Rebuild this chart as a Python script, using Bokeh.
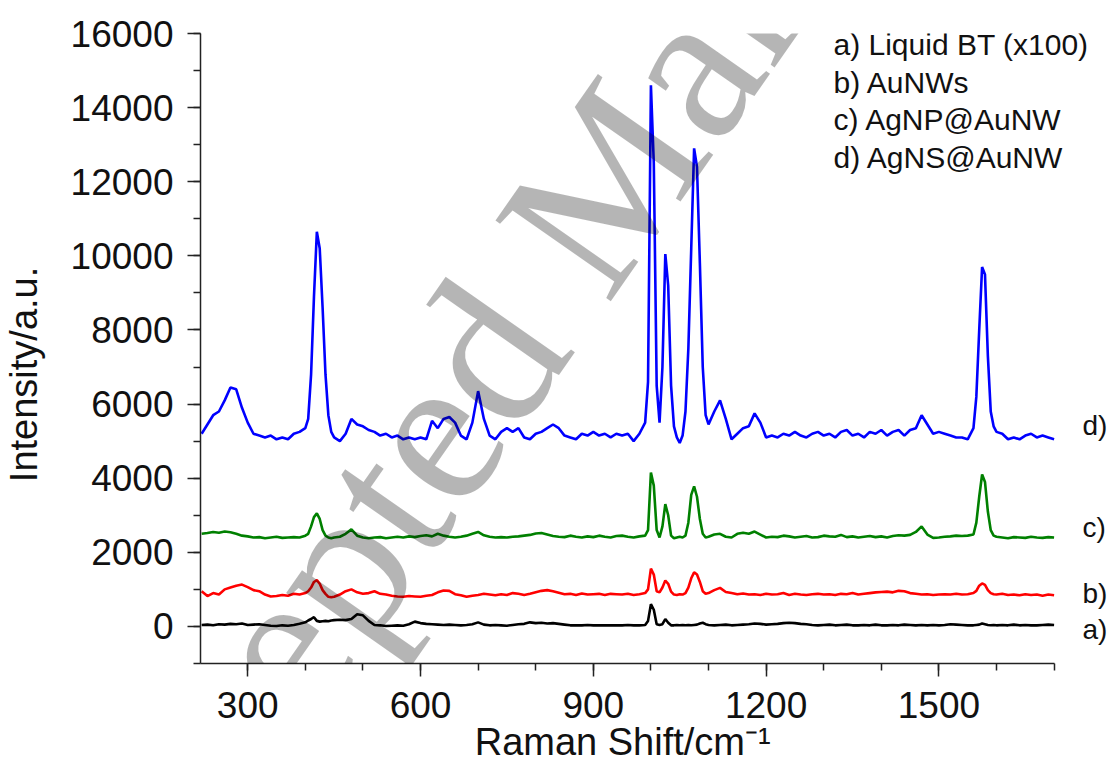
import math
from bokeh.plotting import figure
from bokeh.models import Label, SingleIntervalTicker, FixedTicker, Range1d, LinearAxis
from bokeh.embed import file_html
from bokeh.resources import INLINE

# ---------------- data ----------------
raman_shift = (list(range(220, 401, 10)) + list(range(405, 446, 5)) + list(range(450, 991, 10))
               + list(range(995, 1096, 5)) + list(range(1100, 1561, 10))
               + list(range(1565, 1596, 5)) + list(range(1600, 1701, 10)))

# d) AgNS@AuNW (blue)
agns_aunw = [
    5200, 5450, 5700, 5800, 6100, 6450, 6400, 5900, 5500, 5200, 5150, 5100, 5150, 5050, 5100, 5050, 5200, 5250, 5350,
    5600, 6800, 8900, 10650, 10200, 8600, 6800, 5700, 5250,
    5100, 5000, 5200, 5600, 5450, 5400, 5300, 5250, 5150, 5200, 5100, 5150, 5050, 5100, 5050, 5100, 5050, 5550, 5350, 5600,
    5650, 5500, 5150, 5050, 5500, 6350, 5600, 5150, 5050, 5250, 5350, 5250, 5350, 5100, 5050, 5200, 5250, 5350, 5450, 5350,
    5150, 5100, 5050, 5200, 5150, 5250, 5150, 5200, 5100, 5200, 5150, 5200, 5000, 5200, 5500,
    6600, 14600, 12500, 6500, 5500, 7000, 10050, 9200, 6500, 5400, 5100, 4950, 5150, 5800, 7500, 10200, 12900, 12400, 9800, 7000, 5700,
    5450, 5800, 6100, 5600, 5050, 5200, 5350, 5400, 5750, 5500, 5100, 5150, 5100, 5200, 5150, 5250, 5150, 5100, 5200, 5250,
    5150, 5200, 5100, 5250, 5300, 5150, 5200, 5100, 5250, 5200, 5300, 5150, 5250, 5300, 5150, 5300, 5350, 5700, 5450, 5200,
    5250, 5200, 5150, 5100, 5100, 5050, 5350,
    6200, 8000, 9700, 9500, 7300, 5800, 5400,
    5250, 5200, 5050, 5100, 5050, 5150, 5200, 5100, 5150, 5100, 5050,
]

# c) AgNP@AuNW (green)
agnp_aunw = [
    2500, 2520, 2550, 2530, 2560, 2540, 2500, 2450, 2430, 2400, 2410, 2380, 2400, 2420, 2390, 2400, 2410, 2400, 2450,
    2500, 2700, 2950, 3050, 2900, 2600, 2450, 2400, 2380,
    2400, 2420, 2500, 2620, 2450, 2400, 2380, 2400, 2410, 2380, 2400, 2420, 2400, 2430, 2410, 2440, 2460, 2430, 2500, 2450,
    2420, 2400, 2420, 2450, 2500, 2550, 2460, 2420, 2400, 2410, 2400, 2420, 2430, 2450, 2470, 2510, 2520, 2480, 2440, 2420,
    2410, 2450, 2420, 2400, 2430, 2410, 2450, 2420, 2400, 2440, 2450, 2420, 2400, 2430, 2450,
    2600, 4150, 3800, 2600, 2400, 2700, 3300, 3000, 2450, 2380, 2400, 2420, 2400, 2450, 2800, 3550, 3780, 3500, 2900, 2500, 2400,
    2420, 2480, 2500, 2420, 2400, 2500, 2530, 2500, 2560, 2480, 2400, 2420, 2410, 2450, 2430, 2400, 2420, 2440, 2400, 2410,
    2450, 2430, 2420, 2470, 2410, 2430, 2400, 2420, 2440, 2410, 2430, 2400, 2440, 2460, 2450, 2470, 2550, 2700, 2480, 2390,
    2400, 2420, 2430, 2450, 2440, 2450, 2480,
    2800, 3500, 4100, 3900, 3100, 2600, 2450,
    2420, 2400, 2380, 2410, 2400, 2390, 2420, 2400, 2390, 2410, 2400,
]

# b) AuNWs (red)
aunws = [
    950, 820, 900, 860, 1000, 1050, 1100, 1130, 1060, 980, 950, 860, 810, 820, 850, 830, 880, 860, 900,
    950, 1050, 1200, 1250, 1150, 980, 880, 800, 790,
    800, 860, 950, 1000, 920, 880, 900, 950, 880, 860, 830, 810, 800, 820, 810, 800, 830, 850, 920, 970,
    960, 870, 840, 800, 830, 850, 880, 860, 840, 870, 850, 900, 880, 850, 880, 920, 960, 980, 950, 910,
    870, 880, 850, 890, 860, 870, 880, 850, 880, 870, 860, 880, 850, 870, 900,
    1000, 1560, 1400, 950, 920, 1050, 1240, 1150, 940, 860, 850, 870, 860, 900, 1050, 1300, 1460, 1400, 1200, 950, 880,
    900, 980, 1040, 930, 900, 870, 890, 860, 870, 850, 880, 860, 870, 900, 850, 880, 860, 850, 870, 880,
    860, 870, 850, 880, 870, 900, 860, 880, 900, 920, 930, 940, 920, 960, 950, 900, 880, 860, 870, 850,
    860, 870, 860, 880, 860, 870, 900,
    960, 1100, 1160, 1120, 980, 900, 870,
    860, 880, 850, 860, 840, 870, 850, 860, 830, 860, 840,
]

# a) Liquid BT (x100) (black)
liquid_bt = [
    40, 50, 30, 60, 50, 70, 60, 80, 40, 50, 60, 40, 20, 10, 30, 20, 40, 70, 110,
    160, 200, 250, 150, 130, 140, 150, 140, 160,
    170, 180, 170, 200, 330, 300, 150, 40, 30, 10, 20, 30, 20, 60, 130, 90, 70, 60, 50, 40,
    50, 40, 30, 40, 60, 110, 50, 30, 40, 30, 20, 40, 60, 70, 110, 90, 100, 80, 90, 70,
    50, 30, 30, 30, 40, 30, 30, 30, 30, 30, 30, 40, 30, 30, 40,
    150, 600, 450, 60, 40, 60, 200, 100, 30, 30, 40, 30, 40, 30, 40, 30, 40, 50, 80, 100, 60,
    40, 30, 40, 50, 30, 40, 50, 60, 80, 70, 50, 60, 70, 90, 100, 90, 70, 60, 40, 30,
    40, 50, 30, 40, 50, 30, 30, 40, 30, 50, 30, 30, 40, 30, 50, 40, 30, 40, 30, 40,
    30, 40, 60, 50, 40, 30, 30,
    40, 50, 80, 60, 40, 30, 40,
    30, 40, 30, 50, 30, 40, 30, 30, 40, 50, 40,
]

series_names = ["a) Liquid BT (x100)", "b) AuNWs", "c) AgNP@AuNW", "d) AgNS@AuNW"]
curve_tags = ["a)", "b)", "c)", "d)"]
x_title = "Raman Shift/cm\u207b\u00b9"
y_title = "Intensity/a.u."
x_ticks_interval = 300
y_ticks_interval = 2000

for s in (agns_aunw, agnp_aunw, aunws, liquid_bt):
    assert len(s) == len(raman_shift), (len(s), len(raman_shift))

# ---------------- figure ----------------
X0, XA1 = 218, 1700          # visible axis extent
Y0, Y1 = -1000, 16000
BL, BT = 200, 33
AXIS_PX = 853.6              # pixel length of the 218..1700 axis
XR = (XA1 - X0) / AXIS_PX    # data units per pixel
FW, FH = 908, 630
X1 = X0 + FW * XR            # frame extends to the right edge (room for tags)

p = figure(frame_width=FW, frame_height=FH, x_range=Range1d(X0, X1), y_range=Range1d(Y0, Y1),
           output_backend="svg", toolbar_location=None,
           min_border_left=BL, min_border_top=BT, min_border_right=0, min_border_bottom=100)
p.outline_line_color = None
p.grid.visible = False
p.background_fill_color = "white"
p.border_fill_color = "white"

FONT = "Liberation Sans"
INK = "#111111"

def px2x(px):
    return X0 + (px - BL) * XR

def py2y(py):
    return Y1 - (py - BT) * (Y1 - Y0) / FH

colors = ["black", "#ff0000", "#008000", "#0000ff"]
for ys, c in zip([liquid_bt, aunws, agnp_aunw, agns_aunw], colors):
    p.line(raman_shift, ys, line_color=c, line_width=2.6)

p.xaxis.ticker = SingleIntervalTicker(interval=x_ticks_interval, num_minor_ticks=3)
p.yaxis.ticker = SingleIntervalTicker(interval=y_ticks_interval, num_minor_ticks=2)
p.xaxis.bounds = (X0, XA1)
for ax in (p.xaxis[0], p.yaxis[0]):
    ax.axis_line_color = "#222222"
    ax.axis_line_width = 1.5
    ax.major_tick_line_color = "#222222"
    ax.minor_tick_line_color = "#222222"
    ax.major_tick_line_width = 1.5
    ax.minor_tick_line_width = 1.5
    ax.major_tick_out = 13
    ax.major_tick_in = 0
    ax.minor_tick_out = 7
    ax.minor_tick_in = 0
    ax.major_label_text_font = FONT
    ax.major_label_text_font_size = "37px"
    ax.major_label_text_color = INK
p.xaxis.major_label_standoff = 15
p.yaxis.major_label_standoff = 14

# axis titles as single-tick axes (so they can sit outside the frame at exact positions)
xc = round(px2x(622))
xt = LinearAxis(ticker=FixedTicker(ticks=[xc]), major_label_overrides={xc: x_title},
                axis_line_color=None, major_tick_line_color=None, minor_tick_line_color=None,
                major_tick_out=0, major_tick_in=0, minor_tick_out=0, minor_tick_in=0,
                major_label_standoff=0, major_label_text_font=FONT,
                major_label_text_font_size="38px", major_label_text_color=INK)
p.add_layout(xt, "below")

yc = round(py2y(374), -2)
yt = LinearAxis(ticker=FixedTicker(ticks=[yc]), major_label_overrides={yc: y_title},
                axis_line_color=None, major_tick_line_color=None, minor_tick_line_color=None,
                major_tick_out=0, major_tick_in=0, minor_tick_out=0, minor_tick_in=0,
                major_label_standoff=22, major_label_orientation="vertical", major_label_text_font=FONT,
                major_label_text_font_size="38px", major_label_text_color=INK)
p.add_layout(yt, "left")

# legend text (top right)
for i, name in enumerate(series_names):
    p.add_layout(Label(x=px2x(833), y=py2y(44 + 37.5 * i), text=name, text_font=FONT,
                       text_font_size="30px", text_color=INK, text_baseline="alphabetic"))

# curve tags at right
for tag, ypx in zip(curve_tags, [629, 593, 527, 425]):
    p.add_layout(Label(x=px2x(1082), y=py2y(ypx), text=tag, text_font=FONT,
                       text_font_size="28px", text_color=INK, text_baseline="middle"))

# watermark
p.add_layout(Label(x=px2x(51), y=py2y(973), text="Accepted Manuscript", text_font="Liberation Serif",
                   text_font_size="215px", text_color="black", text_alpha=0.29, angle=math.radians(55),
                   text_baseline="alphabetic", text_align="left"))

open("out.html", "w").write(file_html(p, INLINE))
